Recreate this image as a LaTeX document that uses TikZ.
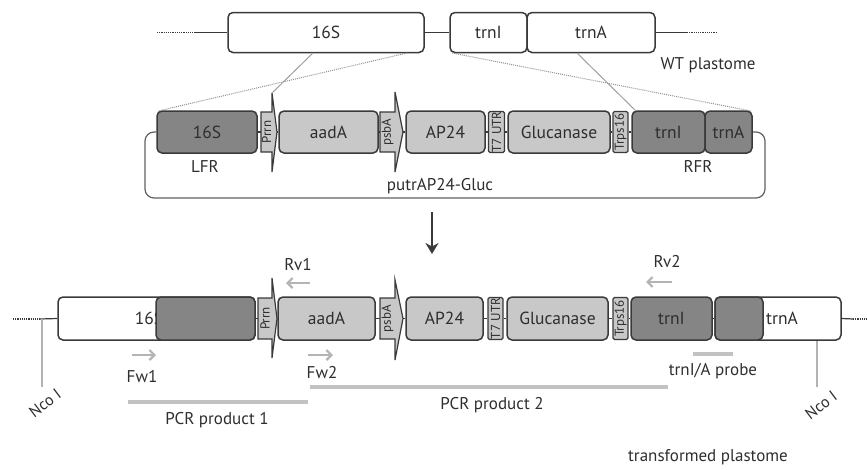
\documentclass[tikz,border=0pt]{standalone}
\usepackage{fontspec}
\setmainfont{PT Sans}
\usetikzlibrary{arrows.meta}
\definecolor{dk}{HTML}{858585}
\definecolor{lt}{HTML}{C8C8C8}
\definecolor{ol}{HTML}{3A3A3A}
\definecolor{pr}{HTML}{B4B4B4}
\definecolor{tx}{HTML}{2E2E2E}
\definecolor{bargray}{HTML}{C2C2C2}
\begin{document}
\begin{tikzpicture}[x=1pt,y=-1pt,
  box/.style={draw=ol, line width=1.5pt, rounded corners=5pt, inner sep=0pt, text=tx, font=\fontsize{17.5}{20}\selectfont},
  wbox/.style={box, fill=white},
  lbox/.style={box, fill=lt},
  dbox/.style={box, fill=dk},
  smallbox/.style={draw=ol, line width=1.2pt, fill=lt, rounded corners=1.5pt, inner sep=0pt},
  anch/.style={inner sep=0pt, outer sep=0pt},
  rottext/.style={rotate=90, text=tx, font=\fontsize{13}{14}\selectfont, inner sep=0pt},
  prom/.style={draw=ol, line width=1.2pt, fill=lt, line join=miter},
  lbl/.style={text=tx, font=\fontsize{17}{20}\selectfont, inner sep=0pt},
  back/.style={draw=ol, line width=1.2pt},
  primer/.style={draw=pr, line width=2.2pt, -{Straight Barb[length=5pt,width=10pt]}},
  bar/.style={draw=bargray, line width=4pt},
  cross/.style={draw=gray!75, line width=1pt},
  crossdot/.style={draw=gray!85, line width=1pt, densely dotted},
  ncoline/.style={draw=gray!60, line width=1.2pt},
  ncotext/.style={text=tx, font=\fontsize{16}{18}\selectfont, inner sep=0pt, rotate=37},
]
\useasboundingbox (0,0) rectangle (867,469);

% ---------------- WT plastome ----------------
\node[wbox, minimum width=196pt, minimum height=40pt] (w16S) at (326,32.5) {16S};
\node[wbox, minimum width=77pt, minimum height=40pt] (wI) at (488.5,32.5) {trnI};
\node[wbox, minimum width=128pt, minimum height=40pt] (wA) at (591,32.5) {trnA};
\coordinate (wl0) at (157,32.5);
\coordinate (wl1) at (196,32.5);
\coordinate (wr1) at (687,32.5);
\coordinate (wr0) at (717,32.5);
\draw[back, densely dotted] (wl0) -- (wl1);
\draw[back] (wl1) -- (w16S.west);
\draw[back] (w16S.east) -- (wI.west);
\draw[back] (wA.east) -- (wr1);
\draw[back, densely dotted] (wr1) -- (wr0);
\node[lbl] (wt) at (708,65) {WT plastome};

% ---------------- plasmid ----------------
\node[dbox, minimum width=100pt, minimum height=42pt] (p16S) at (207,132) {16S};
\node[anch, minimum width=11pt, minimum height=40pt] (pPrrn) at (266.5,132) {};
\coordinate (pPrrnT) at (272,93);
\coordinate (pPrrnX) at (277,132);
\coordinate (pPrrnB) at (272,172);
\path[prom] (pPrrn.north west) -- (pPrrn.north east) -- (pPrrnT) -- (pPrrnX) -- (pPrrnB) -- (pPrrn.south east) -- (pPrrn.south west) -- cycle;
\node[rottext] (pPrrnL) at (pPrrn) {Prrn};
\node[lbox, minimum width=99pt, minimum height=42pt] (paadA) at (328.5,132) {aadA};
\node[anch, minimum width=15pt, minimum height=40pt] (ppsbA) at (387.5,132) {};
\coordinate (ppsbAT) at (395,92);
\coordinate (ppsbAX) at (403,132);
\coordinate (ppsbAB) at (395,172);
\path[prom] (ppsbA.north west) -- (ppsbA.north east) -- (ppsbAT) -- (ppsbAX) -- (ppsbAB) -- (ppsbA.south east) -- (ppsbA.south west) -- cycle;
\node[rottext] (ppsbAL) at (ppsbA) {psbA};
\node[lbox, minimum width=79pt, minimum height=42pt] (pAP) at (445.5,132) {AP24};
\node[smallbox, minimum width=16pt, minimum height=41pt] (pT7) at (496.5,132) {};
\node[rottext] (pT7L) at (pT7) {T7 UTR};
\node[lbox, minimum width=102pt, minimum height=42pt] (pGl) at (559,132) {Glucanase};
\node[smallbox, minimum width=15pt, minimum height=41pt] (pTr) at (620.5,132) {};
\node[rottext] (pTrL) at (pTr) {Trps16};
\node[dbox, minimum width=73pt, minimum height=42pt] (pI) at (668.5,132) {trnI};
\node[dbox, minimum width=47pt, minimum height=42pt] (pA) at (728.5,132) {trnA};
\draw[back] (p16S.east) -- (pPrrn.west);
\draw[back] (pPrrnX) -- (paadA.west);
\draw[back] (paadA.east) -- (ppsbA.west);
\draw[back] (ppsbAX) -- (pAP.west);
\draw[back] (pAP.east) -- (pT7.west);
\draw[back] (pT7.east) -- (pGl.west);
\draw[back] (pGl.east) -- (pTr.west);
\draw[back] (pTr.east) -- (pI.west);
\coordinate (lp1) at (145,132);
\coordinate (lp2) at (145,198);
\coordinate (lp3) at (765,198);
\coordinate (lp4) at (765,132);
\draw[back, draw=ol!80, rounded corners=9pt] (p16S.west) -- (lp1) -- (lp2) -- (lp3) -- (lp4) -- (pA.east);
\node[lbl] (lfr) at (205,166) {LFR};
\node[lbl] (rfr) at (698,166) {RFR};
\node[lbl] (plas) at (440,186) {putrAP24-Gluc};

% crossing lines
\coordinate (c1a) at (407,53);
\coordinate (c1b) at (158,111);
\coordinate (c2a) at (313,53);
\coordinate (c3a) at (452,53);
\coordinate (c3b) at (751,111);
\coordinate (c4a) at (577,53);
\coordinate (c4b) at (636,111);
\draw[crossdot] (c1a) -- (c1b);
\draw[cross] (c2a) -- (pPrrnT);
\draw[crossdot] (c3a) -- (c3b);
\draw[cross] (c4a) -- (c4b);

% down arrow
\coordinate (da0) at (432,212);
\coordinate (da1) at (432,254);
\draw[ol, line width=2.6pt, -{Stealth[length=11pt,width=13pt]}] (da0) -- (da1);

% ---------------- transformed plastome ----------------
\node[wbox, minimum width=197pt, minimum height=43pt] (b16Sw) at (156.5,318.5) {};
\node[lbl, font=\fontsize{17.5}{20}\selectfont] (b16St) at (149,318.5) {16S};
\node[dbox, minimum width=99pt, minimum height=43pt] (bd1) at (205.5,318.5) {};
\node[anch, minimum width=14pt, minimum height=41pt] (bPrrn) at (265,318.5) {};
\coordinate (bPrrnT) at (272,278);
\coordinate (bPrrnX) at (277,318.5);
\coordinate (bPrrnB) at (272,358);
\path[prom] (bPrrn.north west) -- (bPrrn.north east) -- (bPrrnT) -- (bPrrnX) -- (bPrrnB) -- (bPrrn.south east) -- (bPrrn.south west) -- cycle;
\node[rottext] (bPrrnL) at (bPrrn) {Prrn};
\node[lbox, minimum width=97pt, minimum height=43pt] (baadA) at (326.5,318.5) {aadA};
\node[anch, minimum width=15pt, minimum height=41pt] (bpsbA) at (387.5,318.5) {};
\coordinate (bpsbAT) at (395,280);
\coordinate (bpsbAX) at (403,318.5);
\coordinate (bpsbAB) at (395,360);
\path[prom] (bpsbA.north west) -- (bpsbA.north east) -- (bpsbAT) -- (bpsbAX) -- (bpsbAB) -- (bpsbA.south east) -- (bpsbA.south west) -- cycle;
\node[rottext] (bpsbAL) at (bpsbA) {psbA};
\node[lbox, minimum width=77pt, minimum height=43pt] (bAP) at (444.5,318.5) {AP24};
\node[smallbox, minimum width=15pt, minimum height=42pt] (bT7) at (495.5,318.5) {};
\node[rottext] (bT7L) at (bT7) {T7 UTR};
\node[lbox, minimum width=101pt, minimum height=43pt] (bGl) at (557.5,318.5) {Glucanase};
\node[smallbox, minimum width=15pt, minimum height=42pt] (bTr) at (620.5,318.5) {};
\node[rottext] (bTrL) at (bTr) {Trps16};
\node[dbox, minimum width=81pt, minimum height=43pt] (bI) at (671.5,318.5) {trnI};
\node[wbox, minimum width=126pt, minimum height=43pt] (bAw) at (778,318.5) {};
\node[lbl, font=\fontsize{17.5}{20}\selectfont] (bAt) at (782,318.5) {trnA};
\node[dbox, minimum width=48pt, minimum height=43pt] (bd2) at (739,318.5) {};
\draw[back] (bd1.east) -- (bPrrn.west);
\draw[back] (bPrrnX) -- (baadA.west);
\draw[back] (baadA.east) -- (bpsbA.west);
\draw[back] (bpsbAX) -- (bAP.west);
\draw[back] (bAP.east) -- (bT7.west);
\draw[back] (bT7.east) -- (bGl.west);
\draw[back] (bGl.east) -- (bTr.west);
\draw[back] (bTr.east) -- (bI.west);
\draw[back] (bI.east) -- (bd2.west);
\coordinate (bl0) at (13,319);
\coordinate (bl1) at (40,319);
\coordinate (br1) at (853,319);
\coordinate (br0) at (867,319);
\draw[back, densely dotted] (bl0) -- (bl1);
\draw[back] (bl1) -- (b16Sw.west);
\draw[back] (bAw.east) -- (br1);
\draw[back, densely dotted] (br1) -- (br0);

% Nco I
\coordinate (n1a) at (42,319);
\coordinate (n1b) at (42,387);
\coordinate (n2a) at (817,341);
\coordinate (n2b) at (817,387);
\draw[ncoline] (n1a) -- (n1b);
\draw[ncoline] (n2a) -- (n2b);
\node[ncotext] (nco1) at (45,403) {Nco I};
\node[ncotext] (nco2) at (821,405) {Nco I};

% primers
\coordinate (rv1a) at (310,283); \coordinate (rv1b) at (286,283);
\coordinate (rv2a) at (672,282); \coordinate (rv2b) at (646,282);
\coordinate (fw1a) at (132,355); \coordinate (fw1b) at (156,355);
\coordinate (fw2a) at (308,355); \coordinate (fw2b) at (333,355);
\draw[primer] (rv1a) -- (rv1b);
\draw[primer] (rv2a) -- (rv2b);
\draw[primer] (fw1a) -- (fw1b);
\draw[primer] (fw2a) -- (fw2b);
\node[lbl] (rv1) at (298,265) {Rv1};
\node[lbl] (rv2) at (667,262) {Rv2};
\node[lbl] (fw1) at (142,377) {Fw1};
\node[lbl] (fw2) at (322,373) {Fw2};

% PCR products and probe
\coordinate (p1a) at (128,402); \coordinate (p1b) at (308,402);
\coordinate (p2a) at (310,387); \coordinate (p2b) at (668,387);
\coordinate (pra) at (693,354); \coordinate (prb) at (733,354);
\draw[bar] (p1a) -- (p1b);
\draw[bar] (p2a) -- (p2b);
\draw[bar] (pra) -- (prb);
\node[lbl] (pcr1) at (217,420) {PCR product 1};
\node[lbl] (pcr2) at (492,405) {PCR product 2};
\node[lbl] (probe) at (713,371) {trnI/A probe};
\node[lbl] (tp) at (708,457) {transformed plastome};
\end{tikzpicture}
\end{document}
